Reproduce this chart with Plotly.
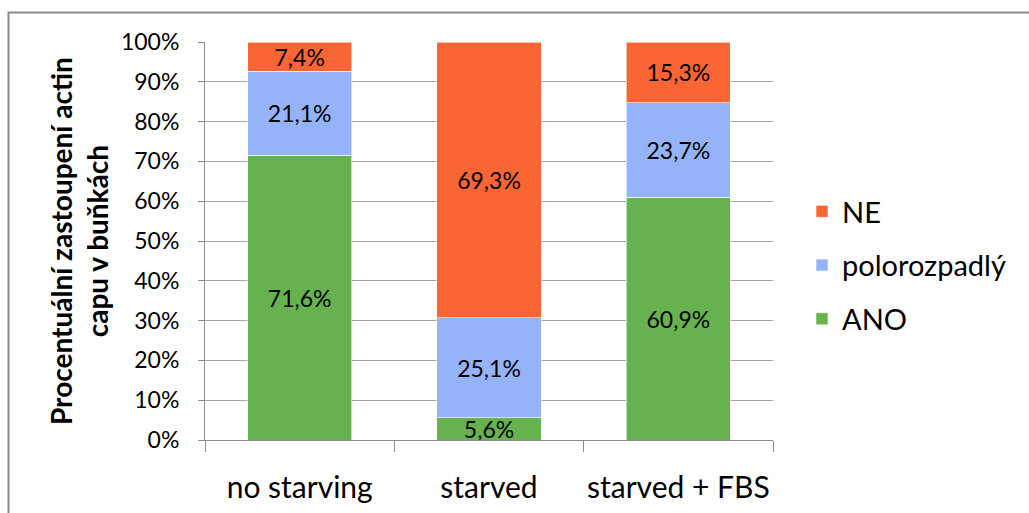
import plotly.graph_objects as go

# Stacked percentage bars: state of actin cap per condition
categories = ["no starving", "starved", "starved + FBS"]
ano = [71.6, 5.6, 60.9]
polorozpadly = [21.1, 25.1, 23.7]
ne = [7.4, 69.3, 15.3]

# (name, values, colour, position in legend from the top)
series = [
    ("ANO", ano, "#66b24f", 3),
    ("polorozpadlý", polorozpadly, "#95b3f9", 2),
    ("NE", ne, "#f96634", 1),
]

FONT = "Lato, Carlito, Calibri, sans-serif"
W, H = 1029, 513
L, R, T, B = 205, 256, 42, 73
PW, PH = W - L - R, H - T - B


def px_x(p):
    return (p - L) / PW


def px_y(p):
    return (H - B - p) / PH


def fmt(v):
    return f"{v:.1f}".replace(".", ",") + "%"


fig = go.Figure()
for name, vals, color, rank in series:
    fig.add_trace(go.Bar(
        x=categories, y=vals, name=name, legendgroup=name, legendrank=rank,
        marker=dict(color=color, line=dict(color="rgba(255,255,255,0.6)", width=1)),
        text=[fmt(v) for v in vals],
        textposition="inside", insidetextanchor="middle", textangle=0,
        textfont=dict(family=FONT, size=23, color="#000000"),
        hoverinfo="skip",
    ))

fig.update_layout(
    width=W, height=H,
    barmode="stack", barnorm="percent", bargap=0.45,
    margin=dict(l=L, r=R, t=T, b=B, autoexpand=False),
    paper_bgcolor="white", plot_bgcolor="white",
    font=dict(family=FONT, color="#000000"),
    uniformtext=dict(minsize=23, mode="show"),
    showlegend=True,
    legend=dict(
        x=px_x(802), y=px_y(186), xanchor="left", yanchor="top",
        traceorder="grouped", tracegroupgap=13,
        font=dict(family=FONT, size=29, color="#000000"),
        itemwidth=30, bgcolor="rgba(0,0,0,0)",
    ),
    xaxis=dict(
        showline=True, linecolor="#8c8c8c", linewidth=1,
        ticks="outside", tickson="boundaries", ticklen=11, tickcolor="#8c8c8c",
        tickfont=dict(family=FONT, size=30, color="#000000"),
        tickangle=0, ticklabelstandoff=21,
        showgrid=False, fixedrange=True,
    ),
    yaxis=dict(
        range=[0, 100], dtick=10, ticksuffix="%",
        showline=True, linecolor="#8c8c8c", linewidth=1,
        ticks="outside", ticklen=6, tickcolor="#8c8c8c",
        tickfont=dict(family=FONT, size=23, color="#000000"),
        ticklabelstandoff=14,
        showgrid=True, gridcolor="#a6a6a6", gridwidth=1,
        zeroline=False, fixedrange=True,
    ),
    annotations=[dict(
        xref="paper", yref="paper", x=px_x(79), y=px_y(241),
        xanchor="center", yanchor="middle", textangle=-90, showarrow=False,
        text="<b>Procentuální zastoupení actin<br>capu v buňkách</b>",
        font=dict(family=FONT, size=28, color="#000000"),
    )],
    shapes=[dict(
        type="rect", xref="paper", yref="paper", layer="below",
        x0=px_x(8.5), x1=px_x(1040), y0=px_y(525), y1=px_y(12.5),
        line=dict(color="#8a8a8a", width=2), fillcolor="rgba(0,0,0,0)",
    )],
)

fig.write_html("out.html")
